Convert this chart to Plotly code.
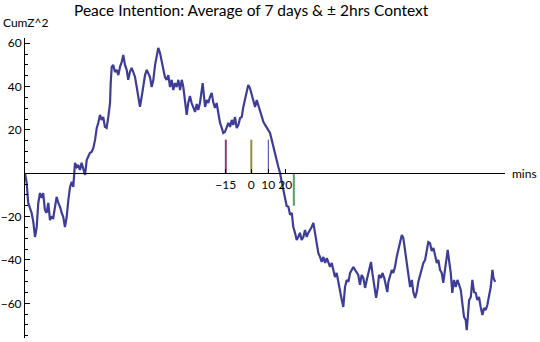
import plotly.graph_objects as go

# ---- data (minutes relative to event, cumulative Z^2) ----
minutes = [-133.1, -132.1, -131.2, -129.2, -128.2, -127.2, -126.2, -125.3, -124.3, -123.3,
           -122.4, -121.4, -120.4, -119.4, -118.4, -117.4, -116.5, -115.5, -114.5, -113.5,
           -112.5, -111.5, -110.6, -109.6, -108.6, -107.6, -106.6, -105.6, -104.7, -103.7,
           -102.7, -101.8, -100.8, -99.8, -98.8, -97.8, -96.8, -95.9, -94.9, -93.9,
           -92.9, -91.9, -90.9, -90.0, -89.0, -88.0, -87.1, -86.1, -85.1, -84.1,
           -83.1, -82.7, -82.1, -81.2, -80.2, -79.2, -78.2, -77.2, -76.2, -75.3,
           -74.3, -73.3, -72.4, -71.4, -70.4, -69.4, -68.4, -67.4, -66.5, -65.5,
           -64.5, -63.5, -62.5, -61.5, -60.6, -59.6, -58.6, -57.6, -56.6, -55.6,
           -54.7, -53.7, -52.7, -51.8, -50.8, -49.8, -48.8, -47.8, -46.8, -45.9,
           -44.9, -43.9, -42.9, -41.9, -40.9, -40.0, -39.0, -38.0, -37.1, -36.1,
           -35.1, -34.1, -33.1, -32.1, -31.2, -30.2, -29.2, -28.6, -27.8, -27.2,
           -26.2, -25.3, -24.3, -23.3, -22.4, -21.4, -20.4, -19.4, -18.4, -17.4,
           -16.5, -15.5, -14.5, -13.5, -12.5, -11.5, -10.6, -9.6, -8.6, -7.6,
           -6.6, -5.6, -4.7, -3.7, -2.7, -1.8, -0.8, 0.2, 1.2, 2.2,
           3.2, 4.1, 5.1, 6.1, 7.1, 8.1, 9.1, 10.0, 11.0, 12.0,
           12.9, 13.9, 14.9, 15.9, 16.9, 17.9, 18.8, 19.8, 20.8, 21.8,
           22.8, 23.8, 24.7, 25.7, 26.7, 27.6, 28.6, 29.6, 30.6, 31.6,
           32.6, 33.5, 34.5, 35.5, 36.5, 37.5, 38.5, 39.4, 40.4, 41.4,
           42.4, 43.4, 44.4, 45.3, 46.3, 47.3, 48.2, 49.2, 50.2, 51.2,
           52.2, 53.2, 54.1, 55.1, 56.1, 57.1, 58.1, 59.1, 60.0, 61.0,
           62.0, 62.9, 63.9, 64.9, 65.9, 66.9, 67.9, 68.8, 69.8, 70.4,
           71.2, 71.8, 72.8, 73.4, 74.4, 75.1, 76.3, 77.1, 78.2, 79.1,
           80.0, 80.6, 81.6, 82.6, 83.5, 84.5, 85.5, 86.5, 87.5, 88.5,
           89.4, 90.4, 91.4, 92.4, 93.4, 94.4, 95.3, 96.3, 97.3, 98.2,
           99.2, 100.2, 101.2, 102.2, 103.2, 104.1, 105.1, 106.1, 107.1, 108.1,
           109.1, 110.0, 111.0, 112.0, 112.9, 113.9, 114.9, 115.5, 116.5, 117.3,
           118.2, 119.2, 120.2, 121.2, 122.2, 123.2, 124.1, 125.1, 126.1, 126.7,
           127.3, 128.1, 129.1, 130.0, 131.0, 132.0, 132.9, 133.9, 134.9, 135.9,
           136.9, 137.9, 138.8, 139.8, 140.8, 141.8, 142.4, 143.4]
cumz2 = [0.0, -4.5, -13.7, -18.3, -22.5, -29.4, -24.8, -13.7, -9.1, -11.4,
         -9.1, -16.9, -18.3, -13.7, -21.6, -20.2, -20.6, -15.5, -10.9, -13.7,
         -15.5, -18.3, -20.2, -24.8, -20.2, -12.3, -6.3, -4.0, -6.3, 4.8,
         2.9, 3.8, 1.5, 4.8, 2.4, -0.8, 6.1, 7.5, 9.4, 9.8,
         11.7, 15.4, 20.9, 23.2, 26.9, 24.6, 26.0, 21.4, 20.9, 26.0,
         32.4, 41.6, 49.1, 50.0, 46.7, 47.7, 45.3, 49.1, 51.4, 54.6,
         50.0, 47.7, 43.1, 46.7, 48.6, 46.7, 44.4, 39.8, 35.2, 30.6,
         35.2, 41.6, 45.3, 47.7, 46.3, 44.4, 39.8, 43.1, 50.0, 54.6,
         57.8, 55.5, 51.4, 47.7, 44.4, 43.1, 45.3, 39.8, 43.1, 38.4,
         41.6, 39.8, 43.1, 38.4, 43.1, 39.8, 33.8, 26.9, 32.4, 35.7,
         32.4, 30.6, 28.3, 32.0, 29.2, 32.4, 38.4, 41.6, 35.2, 30.6,
         33.8, 32.4, 35.2, 37.1, 32.9, 30.1, 32.4, 26.9, 23.2, 20.9,
         18.6, 19.1, 20.9, 23.2, 21.4, 24.6, 22.3, 26.0, 20.9, 22.3,
         25.5, 26.0, 30.6, 34.7, 38.4, 40.7, 39.3, 36.1, 33.8, 30.6,
         33.8, 31.5, 27.8, 26.0, 23.7, 22.3, 20.9, 20.0, 18.6, 15.4,
         12.1, 9.8, 6.1, 2.9, 0.1, -4.0, -7.7, -11.8, -15.1, -15.5,
         -19.2, -18.3, -24.8, -27.5, -30.8, -29.4, -27.5, -30.8, -29.4, -26.2,
         -29.4, -27.5, -26.2, -24.8, -22.9, -27.5, -34.0, -36.8, -38.6, -40.9,
         -38.6, -41.4, -39.1, -40.9, -43.2, -41.4, -44.6, -47.9, -46.0, -50.6,
         -55.2, -58.5, -61.7, -52.5, -49.2, -50.1, -46.0, -44.6, -43.2, -44.6,
         -46.0, -46.9, -51.5, -46.9, -48.3, -52.9, -49.2, -46.0, -43.2, -40.9,
         -46.0, -49.2, -53.8, -57.5, -52.5, -46.9, -48.3, -46.0, -48.3, -51.5,
         -54.8, -50.1, -46.9, -44.6, -46.0, -43.2, -38.6, -35.4, -33.1, -28.5,
         -29.9, -35.4, -40.0, -46.0, -52.5, -49.2, -54.8, -57.5, -54.8, -50.1,
         -46.9, -44.6, -41.4, -40.0, -36.3, -31.7, -32.2, -35.9, -34.5, -38.6,
         -41.4, -40.0, -44.6, -46.0, -50.6, -44.6, -40.0, -35.4, -41.4, -46.0,
         -55.2, -49.2, -52.5, -49.2, -51.5, -53.8, -59.9, -66.3, -67.7, -72.4,
         -66.8, -58.5, -57.1, -49.2, -54.8, -55.2, -58.5, -57.1, -61.7, -65.4,
         -62.2, -63.1, -60.8, -57.1, -52.5, -44.6, -48.3, -50.1]

# event markers (minutes, bar end value, colour)
marker_minutes = [-15, 0, 10, 25]
marker_ends = [15.5, 15.5, 15.5, -15]
marker_colors = ["rgb(153,61,113)", "rgb(153,139,61)", "rgb(61,61,153)", "rgb(80,165,90)"]
marker_widths = [2, 2, 1, 2]

x_tickvals = [-15, 0, 10, 20]
x_ticktext = ["\u221215", "0", "10", "20"]
y_tickvals = [-60, -40, -20, 20, 40, 60]
y_ticktext = ["\u221260", "\u221240", "\u221220", "20", "40", "60"]

x_range = [-133.1, 149.2]
y_range = [-76, 62.4]

FONT = "Lato, 'DejaVu Sans', sans-serif"
LINE_COLOR = "rgb(61,61,153)"

fig = go.Figure()
fig.add_trace(go.Scatter(x=minutes, y=cumz2, mode="lines",
                         line=dict(color=LINE_COLOR, width=2.2),
                         hoverinfo="skip", showlegend=False))
for m, e, c, w in zip(marker_minutes, marker_ends, marker_colors, marker_widths):
    fig.add_trace(go.Scatter(x=[m, m], y=[0, e], mode="lines",
                             line=dict(color=c, width=w),
                             hoverinfo="skip", showlegend=False))

zero_pos = (0 - y_range[0]) / (y_range[1] - y_range[0])

fig.update_layout(
    width=540, height=342,
    margin=dict(l=25, r=35, t=38, b=4, pad=0),
    paper_bgcolor="white", plot_bgcolor="white",
    font=dict(family=FONT, size=12, color="black"),
    showlegend=False,
    xaxis=dict(range=x_range, anchor="free", position=zero_pos,
               automargin=False,
               showline=True, linecolor="black", linewidth=1,
               ticks="inside", ticklen=4, tickcolor="black",
               tickmode="array", tickvals=x_tickvals, ticktext=x_ticktext,
               showgrid=False, zeroline=False,
               tickfont=dict(family=FONT, size=12, color="black")),
    yaxis=dict(range=y_range, automargin=False,
               showline=True, linecolor="black", linewidth=1,
               ticks="inside", ticklen=5, tickcolor="black",
               tickmode="array", tickvals=y_tickvals, ticktext=y_ticktext,
               minor=dict(ticks="inside", ticklen=3, tickcolor="black",
                          dtick=5, tick0=0, showgrid=False),
               showgrid=False, zeroline=False,
               tickfont=dict(family=FONT, size=12, color="black")),
    annotations=[
        dict(text="Peace Intention: Average of 7 days &amp; \u00b1 2hrs Context",
             xref="paper", yref="paper", x=0.471, y=1, yshift=28,
             xanchor="center", yanchor="middle", showarrow=False,
             font=dict(family=FONT, size=15.5, color="black")),
        dict(text="CumZ^2", xref="paper", yref="paper", x=0, y=1,
             xshift=-24, yshift=16, xanchor="left", yanchor="middle",
             showarrow=False, font=dict(family=FONT, size=12, color="black")),
        dict(text="mins", xref="paper", yref="y", x=1, y=0, xshift=5,
             xanchor="left", yanchor="middle", showarrow=False,
             font=dict(family=FONT, size=12, color="black")),
    ],
)

fig.write_html("out.html",
               config={"displayModeBar": False, "staticPlot": True},
               post_script="document.body.style.margin='0';document.body.style.overflow='hidden';")
